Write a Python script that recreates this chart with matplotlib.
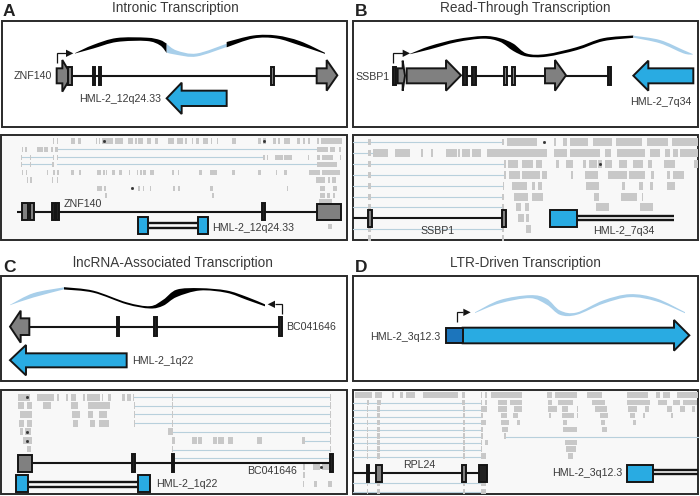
import matplotlib
matplotlib.use('Agg')
import matplotlib.pyplot as plt
from matplotlib.patches import Polygon, Rectangle, PathPatch
from matplotlib.path import Path
from matplotlib.transforms import Affine2D

plt.rcParams['font.family'] = ['Liberation Sans', 'DejaVu Sans']

BLUE = '#29abe2'
LIGHT = '#a8cfea'
DARKBLUE = '#1c75bc'
GRAY = '#808080'
DARK = '#222222'
READ = '#c8c8c8'
SPLICE = '#b8d0dc'
TXT = '#3a3a3a'

# everything below was read off 3x crops, so the units are crop pixels
# ---- ribbons (x, y, thickness)
a_black1 = [(225, 160, 1), (280, 140, 11), (350, 120, 12), (440, 118, 10), (480, 128, 16), (500, 145, 28)]
a_blue = [(500, 145, 26), (530, 158, 13), (590, 165, 9), (680, 136, 10)]
a_black2 = [(680, 134, 16), (760, 111, 9), (830, 111, 9), (900, 130, 13), (975, 160, 3)]
b_black = [(180, 162, 1), (240, 143, 10), (320, 122, 9), (400, 112, 8), (450, 120, 11), (490, 142, 22),
           (530, 165, 9), (590, 166, 8), (680, 146, 9), (760, 119, 9), (850, 110, 7)]
b_blue = [(850, 110, 6), (930, 125, 10), (1000, 155, 10), (1028, 163, 2)]
c_blue = [(30, 165, 1), (100, 136, 13), (192, 115, 6)]
c_black = [(192, 115, 7), (280, 125, 6), (380, 160, 6), (450, 172, 7), (490, 158, 18), (530, 130, 22),
           (600, 118, 7), (680, 125, 7), (740, 145, 9), (795, 166, 6)]
d_blue = [(375, 188, 2), (450, 155, 10), (540, 140, 9), (590, 155, 18), (630, 188, 13), (680, 191, 7),
          (760, 156, 10), (840, 137, 9), (920, 150, 9), (1005, 188, 3)]

# ---- gene models
a_exons = [(205, 217), (278, 286), (296, 304), (814, 822)]
b_exons = [(128, 138, DARK), (340, 350, DARK), (367, 377, DARK), (462, 470, GRAY), (485, 495, GRAY), (774, 782, DARK)]
c_exons = [(350, 358), (463, 472), (838, 847)]
a2_exons = [(65, 85, GRAY), (90, 103, GRAY), (155, 165, DARK), (167, 177, DARK), (786, 795, DARK)]
b2_exons = [(55, 65, GRAY), (457, 467, GRAY)]
c2_exons = [(397, 405, DARK), (517, 523, DARK), (990, 1000, DARK)]
d2_exons = [(50, 58, DARK), (78, 95, GRAY), (337, 347, GRAY), (388, 410, DARK)]

# ---- read pileups, row y -> (start, end)
a_reads = {
    48: [(62, 64), (92, 94), (160, 162), (172, 174), (212, 225), (235, 243), (288, 292), (297, 300), (305, 340), (345, 368),
         (385, 400), (405, 410), (415, 430), (440, 452), (465, 475), (503, 522), (530, 550), (555, 560), (575, 578),
         (587, 597), (610, 625), (632, 637), (650, 655), (695, 708), (773, 783), (788, 797), (820, 828), (835, 840),
         (852, 870), (890, 900), (910, 915), (925, 930), (950, 958), (962, 1025)],
    73: [(65, 68), (75, 80), (112, 128), (132, 145), (152, 160), (165, 175), (950, 985), (990, 1005), (1018, 1022)],
    97: [(62, 65), (90, 93), (160, 163), (170, 173), (790, 795), (800, 805), (825, 850), (853, 875), (925, 928), (950, 960),
         (965, 1000), (1020, 1023)],
    118: [(62, 65), (90, 93), (155, 162), (950, 1010)],
    142: [(65, 70), (78, 82), (142, 145), (160, 165), (172, 178), (212, 222), (238, 243), (290, 303), (310, 315), (318, 322),
          (335, 345), (358, 365), (387, 390), (410, 415), (420, 425), (430, 438), (450, 462), (515, 522), (533, 537),
          (597, 605), (630, 652), (695, 705), (773, 783), (828, 832), (853, 860), (928, 960), (965, 1020)],
    165: [(80, 84), (90, 95), (157, 160), (170, 173), (948, 975), (985, 990), (995, 1008)],
    190: [(292, 305), (312, 317), (415, 420), (430, 433), (450, 453), (520, 525), (535, 540), (630, 640), (860, 863),
          (960, 975), (1000, 1012)],
    212: [(316, 320), (637, 642), (960, 975), (982, 990), (1000, 1005)],
    230: [(958, 995)],
    305: [(983, 997)],
}
a_splices = [(73, 175, 950), (97, 65, 160), (97, 170, 790), (118, 65, 160), (118, 170, 950)]
a_specks = [(313, 48), (792, 48), (397, 190)]

b_reads = {
    52: [(470, 560), (612, 618), (640, 650), (660, 715), (728, 785), (798, 875), (890, 955), (965, 1045)],
    85: [(70, 115), (135, 180), (212, 218), (243, 250), (288, 320), (325, 330), (335, 360), (365, 392), (410, 590), (612, 650),
         (660, 750), (765, 782), (800, 885), (900, 930), (945, 960), (968, 985), (990, 1045)],
    118: [(462, 468), (475, 505), (517, 550), (557, 575), (618, 628), (648, 668), (700, 708), (718, 742), (745, 755), (765, 785),
          (808, 832), (850, 880), (895, 905), (942, 975), (1032, 1045)],
    150: [(462, 468), (478, 510), (517, 570), (575, 590), (663, 668), (705, 745), (775, 830), (838, 885), (902, 912), (952, 960),
          (970, 1003)],
    183: [(458, 462), (485, 530), (545, 555), (565, 575), (708, 748), (815, 825), (868, 878), (900, 910), (952, 975)],
    215: [(492, 535), (545, 580), (733, 747), (812, 862), (875, 878)],
    247: [(497, 512), (525, 537), (738, 778), (870, 908)],
    278: [(505, 522), (528, 537)],
    312: [(528, 542)],
}
b_columns = {52: [(55, 62), (457, 461)], 85: [(55, 62)], 118: [(55, 62)], 150: [(55, 62)], 183: [(55, 62)], 215: [(55, 62), (457, 461)],
             247: [(55, 62), (457, 461)], 312: [(55, 62), (457, 461)], 338: [(55, 62), (457, 461)]}
b_splices = [(52, 8, 460), (85, 8, 70), (118, 8, 460), (150, 8, 460), (183, 8, 460), (215, 8, 460), (247, 8, 460), (312, 8, 460)]
b_specks = [(582, 52), (750, 118)]

c_reads = {
    67: [(55, 90), (110, 162), (170, 178), (197, 205), (212, 228), (250, 254), (262, 300), (305, 310), (325, 333), (367, 375),
         (382, 392), (398, 402), (515, 519), (990, 994)],
    92: [(55, 72), (80, 97), (128, 152), (212, 235), (263, 330), (402, 405), (515, 519), (990, 994)],
    118: [(60, 97), (217, 240), (265, 280), (297, 322), (402, 405), (515, 519), (990, 994)],
    145: [(58, 72), (82, 97), (218, 233), (270, 285), (297, 308), (310, 327), (402, 405), (515, 519), (990, 994)],
    170: [(60, 70), (75, 92), (503, 520), (990, 994)],
    197: [(68, 97), (515, 525), (575, 590), (593, 607), (640, 650), (655, 672), (685, 700), (772, 785), (905, 915), (990, 994)],
    222: [(82, 92), (515, 519), (990, 994)],
    275: [(908, 915), (938, 960), (965, 985), (983, 990)],
    300: [(908, 915)],
    327: [(908, 911), (942, 950), (985, 997)],
}
c_splices = [(67, 402, 990), (92, 405, 990), (118, 405, 990), (145, 405, 990), (170, 520, 990), (197, 915, 990), (225, 517, 990),
             (250, 517, 990)]
c_specks = [(82, 67), (82, 170), (80, 197), (962, 275)]

d_reads = {
    60: [(15, 65), (75, 95), (125, 132), (150, 160), (168, 195), (218, 325), (335, 345), (392, 395), (405, 410), (422, 515),
         (592, 605), (615, 680), (710, 757), (830, 895), (918, 930), (938, 960), (980, 1045)],
    82: [(50, 56), (80, 92), (335, 345), (392, 395), (405, 410), (443, 470), (480, 515), (595, 605), (625, 668), (725, 765),
         (832, 900), (925, 950), (970, 990), (1000, 1040)],
    102: [(50, 55), (80, 90), (338, 345), (392, 412), (445, 470), (493, 515), (595, 620), (635, 655), (680, 685), (735, 772),
          (835, 860), (885, 898), (950, 965), (990, 1005), (1025, 1035)],
    122: [(50, 55), (80, 90), (338, 345), (392, 398), (452, 470), (490, 503), (597, 602), (635, 672), (680, 683), (750, 775),
          (840, 855), (878, 885), (962, 970)],
    143: [(50, 55), (80, 90), (338, 345), (392, 408), (453, 478), (500, 510), (640, 652), (752, 765), (850, 858)],
    163: [(50, 55), (80, 90), (338, 345), (392, 398), (455, 475), (640, 682), (755, 770)],
    183: [(50, 55), (80, 90), (338, 345), (392, 398), (463, 468)],
    203: [(50, 55), (80, 90), (338, 345), (392, 395), (405, 415), (645, 680)],
    222: [(50, 55), (80, 90), (338, 345), (392, 395), (648, 678)],
    243: [(50, 55), (80, 90), (338, 345), (392, 408), (655, 668)],
    325: [(50, 55), (80, 90), (338, 345), (392, 408)],
    350: [(50, 55), (80, 90), (338, 345), (392, 408)],
}
d_splices = [(85, 8, 392), (105, 8, 392), (125, 8, 392), (145, 8, 392), (165, 8, 392), (185, 8, 392), (185, 468, 1045), (205, 8, 392),
             (225, 8, 392), (245, 8, 392), (325, 8, 392), (350, 8, 392)]

fig = plt.figure(figsize=(7, 4.96), dpi=100)
ax = fig.add_axes([0, 0, 1, 1])
ax.set_xlim(0, 700)
ax.set_ylim(496, 0)
ax.axis('off')


def crop(ox, oy):
    return Affine2D().scale(1 / 3).translate(ox, oy) + ax.transData


def smooth(pts):
    # catmull-rom through the points, as bezier segments
    verts = [pts[0]]
    for i in range(len(pts) - 1):
        p0 = pts[max(i - 1, 0)]
        p1 = pts[i]
        p2 = pts[i + 1]
        p3 = pts[min(i + 2, len(pts) - 1)]
        verts.append((p1[0] + (p2[0] - p0[0]) / 6, p1[1] + (p2[1] - p0[1]) / 6))
        verts.append((p2[0] - (p3[0] - p1[0]) / 6, p2[1] - (p3[1] - p1[1]) / 6))
        verts.append(p2)
    return verts


def ribbon(points, color, t):
    top = smooth([(x, y - w / 2) for x, y, w in points])
    bot = smooth([(x, y + w / 2) for x, y, w in points][::-1])
    verts = top + bot + [top[0]]
    codes = [Path.MOVETO] + [Path.CURVE4] * (len(top) - 1) + [Path.LINETO] + [Path.CURVE4] * (len(bot) - 1) + [Path.CLOSEPOLY]
    ax.add_patch(PathPatch(Path(verts, codes), fc=color, ec='none', transform=t, zorder=3))


def arrow(tip, base, end, y0, y1, head0, head1, color, t, lw=1.4):
    ym = (head0 + head1) / 2
    pts = [(end, y0), (base, y0), (base, head0), (tip, ym), (base, head1), (base, y1), (end, y1)]
    ax.add_patch(Polygon(pts, closed=True, fc=color, ec='#151515', lw=lw, joinstyle='miter', transform=t, zorder=4))


def box(x0, x1, y0, y1, color, t, z=4):
    ax.add_patch(Rectangle((x0, y0), x1 - x0, y1 - y0, fc=color, ec='#151515', lw=1.4, transform=t, zorder=z))


def line(xs, ys, t, lw=1.5, z=2):
    ax.plot(xs, ys, color='#151515', lw=lw, transform=t, zorder=z, solid_capstyle='butt', solid_joinstyle='miter')


def promoter(x0, y0, y1, x1, tip, t):
    line([x0, x0, x1], [y0, y1, y1], t, lw=0.9, z=5)
    ax.add_patch(Polygon([(x1, y1 - 11), (tip, y1), (x1, y1 + 11)], fc='#151515', ec='none', transform=t, zorder=5))


def panel(x0, x1, y0, y1, t, fc='white'):
    ax.add_patch(Rectangle((x0, y0), x1 - x0, y1 - y0, fc=fc, ec='#2a2a2a', lw=1.4, transform=t, zorder=1))


def label(x, y, s, t, ha='left', size=7.7):
    ax.text(x, y, s, transform=t, ha=ha, va='center', fontsize=size, color=TXT, zorder=6)


def heading(xl, yl, letter, xt, yt, title, t):
    ax.text(xl, yl, letter, transform=t, ha='left', va='center', fontsize=12.5, fontweight='bold', color='#222222')
    ax.text(xt, yt, title, transform=t, ha='center', va='center', fontsize=9.8, color=TXT)


def pileup(reads, t, h=14):
    for y, spans in reads.items():
        for s, e in spans:
            ax.add_patch(Rectangle((s, y - h / 2), e - s, h, fc=READ, ec='none', transform=t, zorder=1.6))


def splices(rows, t):
    for y, s, e in rows:
        ax.plot([s, e], [y, y], color=SPLICE, lw=0.8, transform=t, zorder=1.5)


def specks(points, t):
    ax.plot([p[0] for p in points], [p[1] for p in points], ls='none', marker='s', ms=1, color='#333333', transform=t, zorder=1.7)


def double_line(x0, x1, y0, y1, t):
    line([x0, x1], [y0, y0], t, lw=1.7)
    line([x0, x1], [y1, y1], t, lw=1.7)


# ---- A
t = crop(0, 0)
panel(5, 1040, 62, 381, t)
heading(8, 33, 'A', 525, 24, 'Intronic Transcription', t)
ribbon(a_black1, 'black', t)
ribbon(a_blue, LIGHT, t)
ribbon(a_black2, 'black', t)
promoter(172, 190, 160, 198, 220, t)
line([205, 950], [227, 227], t)
arrow(215, 187, 170, 205, 250, 180, 275, GRAY, t)
arrow(1012, 980, 950, 205, 250, 180, 272, GRAY, t)
for s, e in a_exons:
    box(s, e, 200, 255, GRAY, t)
arrow(500, 545, 680, 272, 318, 248, 342, BLUE, t)
label(157, 228, 'ZNF140', t, ha='right')
label(483, 298, 'HML-2_12q24.33', t, ha='right')

t = crop(0, 125)
panel(3, 1040, 30, 345, t, fc='#f8f8f8')
splices(a_splices, t)
pileup(a_reads, t, h=16)
specks(a_specks, t)
line([50, 950], [260, 260], t)
for s, e, c in a2_exons:
    box(s, e, 235, 286, c, t)
box(950, 1022, 237, 285, GRAY, t)
double_line(445, 595, 295, 310, t)
box(415, 445, 276, 328, BLUE, t)
box(595, 623, 276, 328, BLUE, t)
label(192, 238, 'ZNF140', t)
label(635, 308, 'HML-2_12q24.33', t)

# ---- B
t = crop(350, 0)
panel(8, 1045, 62, 381, t)
heading(14, 33, 'B', 527, 24, 'Read-Through Transcription', t)
ribbon(b_black, 'black', t)
ribbon(b_blue, LIGHT, t)
promoter(130, 188, 160, 158, 180, t)
line([335, 780], [227, 227], t)
for s, e, c in b_exons:
    box(s, e, 200, 255, c, t)
arrow(165, 158, 143, 205, 250, 182, 272, GRAY, t)
arrow(333, 288, 170, 205, 250, 180, 272, GRAY, t)
arrow(648, 615, 585, 205, 250, 180, 272, GRAY, t)
arrow(850, 895, 1030, 205, 250, 182, 272, BLUE, t)
label(120, 230, 'SSBP1', t, ha='right')
label(1025, 305, 'HML-2_7q34', t, ha='right')

t = crop(350, 125)
panel(8, 1045, 30, 345, t, fc='#f8f8f8')
splices(b_splices, t)
pileup(b_reads, t, h=24)
pileup(b_columns, t, h=18)
specks(b_specks, t)
line([8, 460], [280, 280], t)
for s, e, c in b2_exons:
    box(s, e, 255, 305, c, t)
double_line(680, 972, 272, 285, t)
box(600, 680, 255, 305, BLUE, t)
label(262, 318, 'SSBP1', t, ha='center')
label(822, 318, 'HML-2_7q34', t, ha='center')

# ---- C
t = crop(0, 250)
panel(3, 1040, 78, 393, t)
heading(10, 52, 'C', 520, 40, 'lncRNA-Associated Transcription', t)
ribbon(c_blue, LIGHT, t)
ribbon(c_black, 'black', t)
promoter(845, 193, 163, 825, 803, t)
line([88, 840], [230, 230], t)
arrow(30, 62, 88, 205, 255, 182, 278, GRAY, t)
for s, e in c_exons:
    box(s, e, 202, 257, DARK, t)
arrow(30, 78, 380, 310, 352, 285, 376, BLUE, t)
label(857, 230, 'BC041646', t)
label(395, 333, 'HML-2_1q22', t)

t = crop(0, 375)
panel(3, 1040, 45, 358, t, fc='#f8f8f8')
splices(c_splices, t)
pileup(c_reads, t, h=20)
specks(c_specks, t)
line([55, 1000], [265, 265], t)
box(55, 97, 240, 290, GRAY, t)
for s, e, c in c2_exons:
    box(s, e, 238, 292, c, t)
double_line(85, 415, 322, 335, t)
box(48, 85, 300, 352, BLUE, t)
box(415, 450, 300, 352, BLUE, t)
label(892, 288, 'BC041646', t, ha='right')
label(467, 327, 'HML-2_1q22', t)

# ---- D
t = crop(350, 250)
panel(8, 1045, 78, 393, t)
heading(14, 52, 'D', 527, 40, 'LTR-Driven Transcription', t)
ribbon(d_blue, LIGHT, t)
promoter(320, 215, 187, 340, 362, t)
arrow(1018, 972, 338, 233, 280, 210, 302, BLUE, t)
box(287, 338, 233, 280, DARKBLUE, t, z=5)
label(270, 262, 'HML-2_3q12.3', t, ha='right')

t = crop(350, 375)
panel(8, 1045, 45, 358, t, fc='#f8f8f8')
splices(d_splices, t)
pileup(d_reads, t, h=16)
line([8, 410], [295, 295], t)
for s, e, c in d2_exons:
    box(s, e, 270, 320, c, t)
double_line(908, 1045, 285, 298, t)
box(830, 908, 270, 320, BLUE, t)
label(209, 270, 'RPL24', t, ha='center')
label(817, 295, 'HML-2_3q12.3', t, ha='right')

fig.savefig('out.png', dpi=100)
